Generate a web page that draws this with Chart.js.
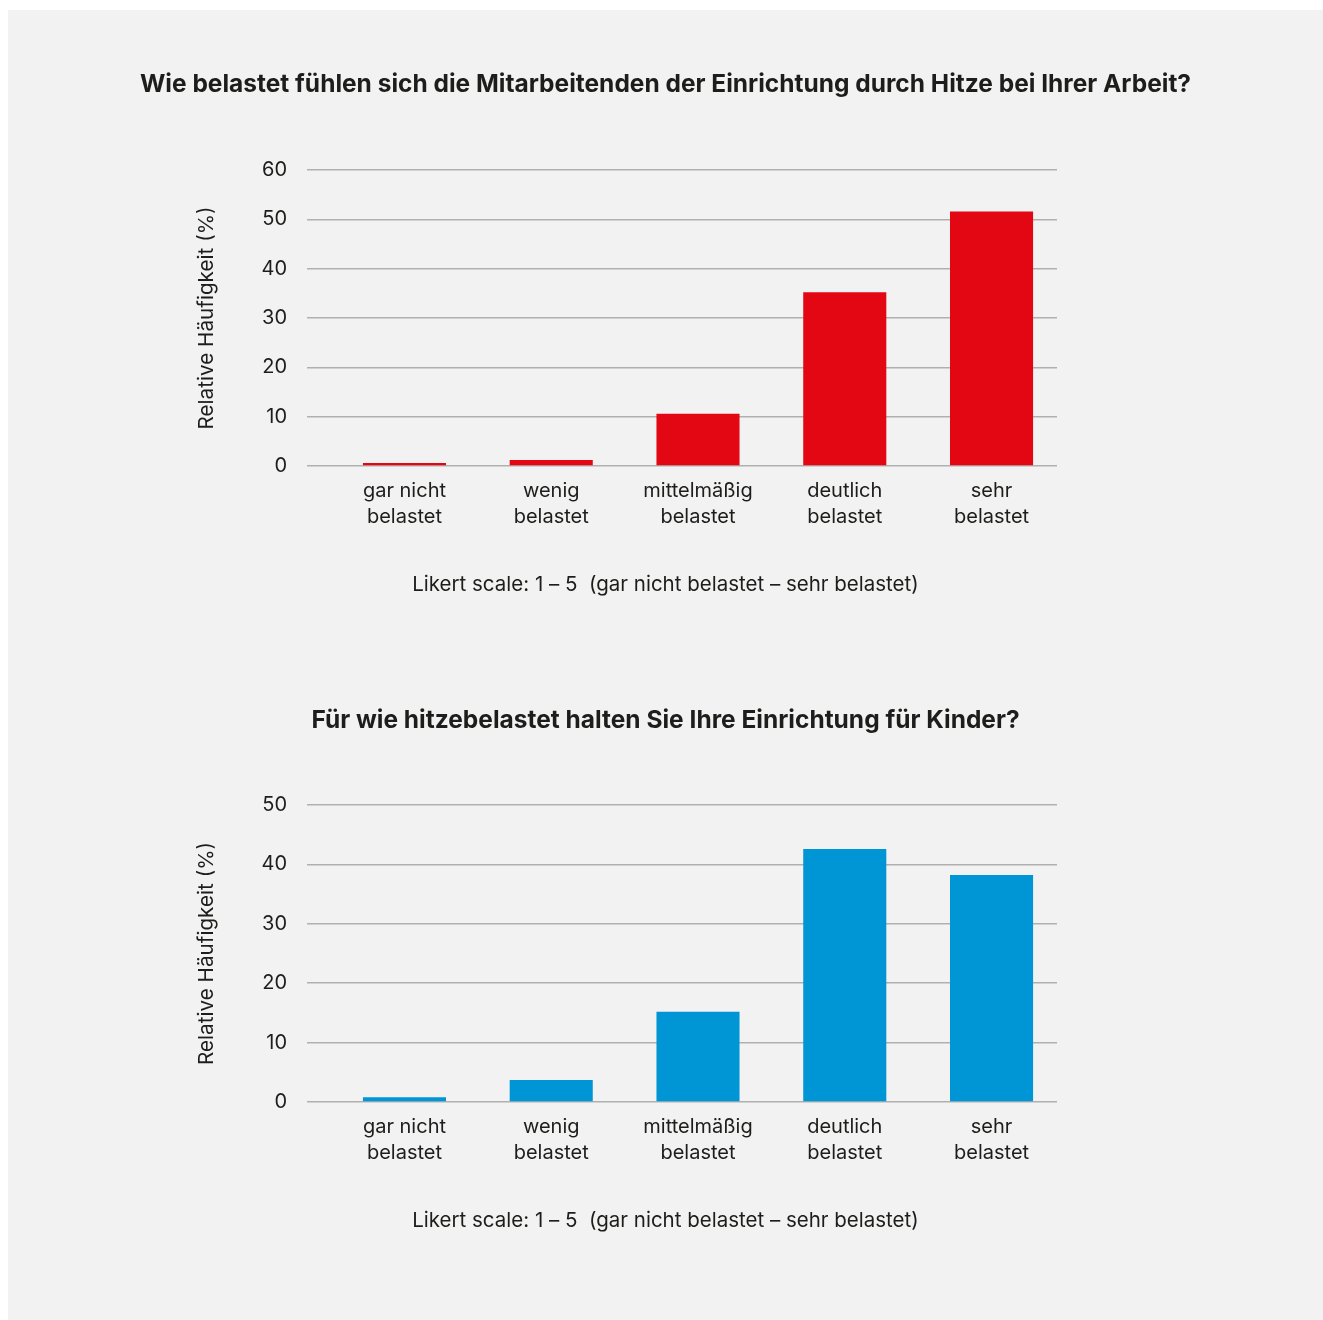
<!DOCTYPE html>
<html>
<head>
<meta charset="utf-8">
<script src="https://cdn.jsdelivr.net/npm/chart.js@4/dist/chart.umd.min.js"></script>
<style>
  html, body { margin: 0; padding: 0; background: #ffffff; }
  #panel { position: absolute; left: 8px; top: 10px; width: 1315px; height: 1310px; background: #f2f2f2; }
  canvas { position: absolute; left: 8px; }
  #c1 { top: 10px; }
  #c2 { top: 650px; }
</style>
</head>
<body>
<div id="panel"></div>
<canvas id="c1" width="1315" height="640"></canvas>
<canvas id="c2" width="1315" height="670"></canvas>
<script>
const categories = [
  ["gar nicht", "belastet"],
  ["wenig", "belastet"],
  ["mittelmäßig", "belastet"],
  ["deutlich", "belastet"],
  ["sehr", "belastet"]
];
const staffValues = [0.6, 1.2, 10.6, 35.2, 51.6];
const childValues = [0.8, 3.7, 15.2, 42.6, 38.2];
const staffTitle = "Wie belastet fühlen sich die Mitarbeitenden der Einrichtung durch Hitze bei Ihrer Arbeit?";
const childTitle = "Für wie hitzebelastet halten Sie Ihre Einrichtung für Kinder?";
const yAxisTitle = "Relative Häufigkeit (%)";
const scaleNote = "Likert scale: 1 – 5  (gar nicht belastet – sehr belastet)";
const staffYMax = 60;
const childYMax = 50;

const FONT = "Inter, 'Noto Sans', 'DejaVu Sans', sans-serif";
const TEXT = "#1d1d1b";
const GRID = "#b0b0b0";

function makeChart(id, values, color, title, yMax, titlePad, subPad) {
  const pts = values.map((v, i) => ({ x: i + 1, y: v }));
  return new Chart(document.getElementById(id), {
    type: "bar",
    data: {
      datasets: [{
        data: pts,
        backgroundColor: color,
        borderWidth: 0,
        barPercentage: 0.566,
        categoryPercentage: 1.0
      }]
    },
    options: {
      responsive: false,
      animation: false,
      devicePixelRatio: 1,
      layout: { padding: 0 },
      plugins: {
        legend: { display: false },
        tooltip: { enabled: false },
        title: {
          display: true,
          text: title,
          color: TEXT,
          font: { family: FONT, size: 24.5, weight: "bold", lineHeight: 1.2 },
          padding: titlePad
        },
        subtitle: {
          display: true,
          position: "bottom",
          text: scaleNote,
          color: TEXT,
          font: { family: FONT, size: 20.5, weight: "normal", lineHeight: 1.2 },
          padding: subPad
        }
      },
      scales: {
        x: {
          type: "linear",
          offset: false,
          min: 0.336,
          max: 5.446,
          grid: { display: false, drawTicks: false, offset: false },
          border: { display: false },
          afterFit: (s) => { s.height = 70; },
          ticks: {
            stepSize: 1,
            includeBounds: false,
            autoSkip: false,
            maxRotation: 0,
            padding: 12,
            color: TEXT,
            font: { family: FONT, size: 20, lineHeight: 1.3 },
            callback: (v) => categories[Math.round(v) - 1]
          }
        },
        y: {
          min: 0,
          max: yMax,
          grid: { color: GRID, lineWidth: 1.5, drawTicks: false },
          border: { display: false },
          afterFit: (s) => { s.width = 299; },
          ticks: {
            stepSize: 10,
            padding: 20,
            color: TEXT,
            font: { family: FONT, size: 20 }
          },
          title: {
            display: true,
            text: yAxisTitle,
            color: TEXT,
            font: { family: FONT, size: 20.7, lineHeight: 1.2 },
            padding: { top: 186.6, bottom: 0 }
          }
        },
        yRight: {
          type: "linear",
          position: "right",
          display: true,
          grid: { display: false, drawTicks: false },
          border: { display: false },
          ticks: { display: false },
          afterFit: (s) => { s.width = 266; }
        }
      }
    }
  });
}

makeChart("c1", staffValues, "#e30613", staffTitle, staffYMax,
  { top: 60.3, bottom: 70.3 }, { top: 36.7, bottom: 52.7 });
makeChart("c2", childValues, "#0095d5", childTitle, childYMax,
  { top: 56.3, bottom: 69.3 }, { top: 36.7, bottom: 86.7 });
</script>
</body>
</html>
